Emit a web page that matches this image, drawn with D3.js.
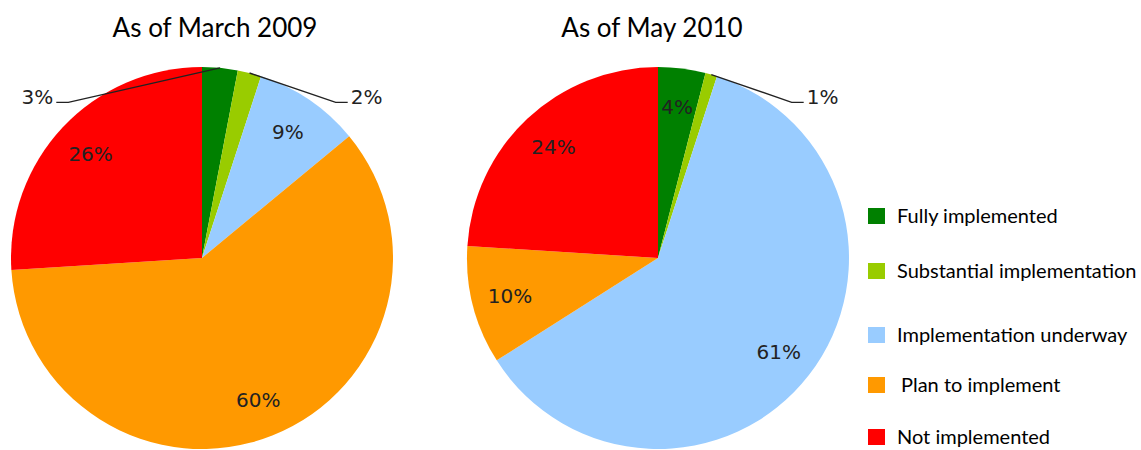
<!DOCTYPE html>
<html>
<head>
<meta charset="utf-8">
<script src="https://cdn.jsdelivr.net/npm/d3@7"></script>
<style>
  body { margin: 0; background: #fff; }
</style>
</head>
<body>
<div id="chart"></div>
<script>
// data
var categories = ['Fully implemented', 'Substantial implementation', 'Implementation underway', 'Plan to implement', 'Not implemented'];
var colors = ['#008000', '#99CC00', '#99CCFF', '#FF9900', '#FF0000'];
var titles = ['As of March 2009', 'As of May 2010'];
var values2009 = [3, 2, 9, 60, 26];
var values2010 = [4, 1, 61, 10, 24];

var width = 1141, height = 450;
var radius = 191;

var svg = d3.select('#chart').append('svg')
    .attr('width', width)
    .attr('height', height);

var pie = d3.pie().sort(null).value(function(d){ return d; });
var arc = d3.arc().innerRadius(0).outerRadius(radius);
var labelArc = d3.arc().innerRadius(radius * 0.8).outerRadius(radius * 0.8);

// draw one pie, small slices get a leader line
function drawPie(values, title, cx, titleX, leftLeader){
    var g = svg.append('g')
        .attr('transform', 'translate(' + cx + ',258)');

    svg.append('text')
        .attr('x', titleX)
        .attr('y', 37)
        .attr('text-anchor', 'middle')
        .style('font-family', 'Lato, "Open Sans", sans-serif')
        .style('font-size', '26px')
        .style('fill', '#000')
        .text(title);

    var arcs = pie(values);

    g.selectAll('path')
        .data(arcs)
        .enter()
        .append('path')
            .attr('d', arc)
            .attr('fill', function(d,i){ return colors[i]; });

    arcs.forEach(function(d, i){
        var txt = d.value + '%';
        if (d.value <= 3) {
            // outside label
            var mid = (d.startAngle + d.endAngle) / 2;
            var px = Math.sin(mid) * radius, py = -Math.cos(mid) * radius;
            var side = (i === leftLeader) ? -1 : 1;
            var ex = side * radius * 0.70, ey = -radius * 0.815;
            var hx = ex + side * 12;
            g.append('polyline')
                .attr('points', [[px, py], [ex, ey], [hx, ey]].map(function(p){ return p.join(','); }).join(' '))
                .attr('fill', 'none')
                .attr('stroke', '#222')
                .attr('stroke-width', 1.4);
            g.append('text')
                .attr('x', hx + side * 3)
                .attr('y', ey)
                .attr('dy', '0.1em')
                .attr('text-anchor', side < 0 ? 'end' : 'start')
                .style('font-family', '"DejaVu Sans", Verdana, sans-serif')
                .style('font-size', '20px')
                .style('fill', '#222')
                .text(txt);
        } else {
            var c = labelArc.centroid(d);
            g.append('text')
                .attr('x', c[0])
                .attr('y', c[1])
                .attr('dy', '0.36em')
                .attr('text-anchor', 'middle')
                .style('font-family', '"DejaVu Sans", Verdana, sans-serif')
                .style('font-size', '20px')
                .style('fill', '#222')
                .text(txt);
        }
    });
}

drawPie(values2009, titles[0], 202, 215, 0);
drawPie(values2010, titles[1], 658, 652, -1);

// legend
var legendY = d3.scalePoint()
    .domain(categories)
    .range([216, 440]);
// small nudges so the rows sit like the original
var legendOffsets = [0, -1, 7, 1, -3];

var items = svg.append('g').selectAll('g')
    .data(categories)
    .enter()
    .append('g')
        .attr('transform', function(d,i){
            return 'translate(868,' + (legendY(d) + legendOffsets[i]) + ')';
        });

items.append('rect')
    .attr('x', 0)
    .attr('y', -8)
    .attr('width', 17)
    .attr('height', 16)
    .attr('fill', function(d,i){ return colors[i]; });

items.append('text')
    .attr('x', function(d,i){ return i === 3 ? 33 : 29; })
    .attr('y', 0)
    .attr('dy', '0.35em')
    .style('font-family', 'Lato, "Open Sans", sans-serif')
    .style('font-size', '20px')
    .style('fill', '#000')
    .text(function(d){ return d; });
</script>
</body>
</html>
